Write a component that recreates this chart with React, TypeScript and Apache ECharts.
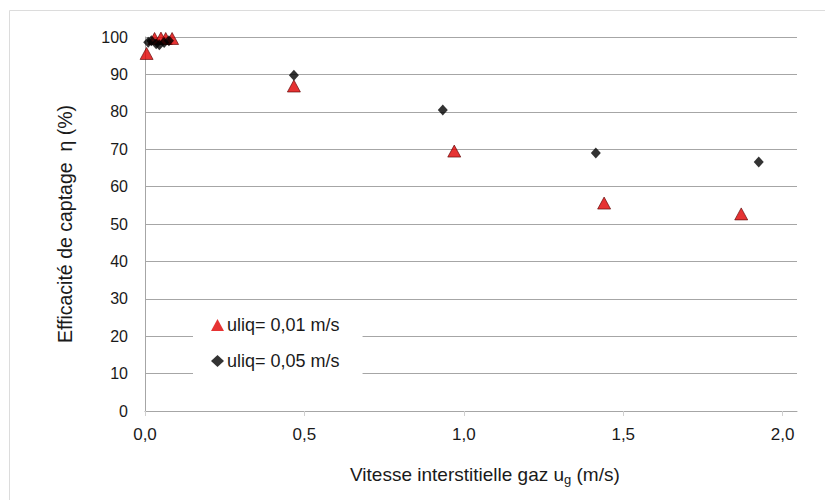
import React, { useEffect, useRef } from "react";
import * as echarts from "echarts";

const seriesNames = ["uliq= 0,01 m/s", "uliq= 0,05 m/s"];
const xTicks = [0, 0.5, 1.0, 1.5, 2.0];
const yTicks = [0, 10, 20, 30, 40, 50, 60, 70, 80, 90, 100];

// uliq = 0,01 m/s (red triangles)
const s1x = [0.005, 0.03, 0.05, 0.065, 0.085, 0.467, 0.97, 1.44, 1.87];
const s1y = [95.6, 99.6, 99.7, 99.6, 99.6, 86.9, 69.5, 55.6, 52.7];
// uliq = 0,05 m/s (black diamonds)
const s2x = [0.01, 0.02, 0.035, 0.045, 0.06, 0.075, 0.467, 0.934, 1.414, 1.925];
const s2y = [98.6, 99.0, 98.2, 97.9, 98.5, 99.0, 89.8, 80.5, 69.0, 66.6];

const FONT = "'Liberation Sans', Arial, sans-serif";

export default function App() {
  const ref = useRef<HTMLDivElement>(null);
  useEffect(() => {
    if (!ref.current) return;
    const chart = echarts.init(ref.current, undefined, { renderer: "svg" });
    const d1 = s1x.map((x, i) => [x, s1y[i]]);
    const d2 = s2x.map((x, i) => [x, s2y[i]]);
    chart.setOption({
      animation: false,
      backgroundColor: "#ffffff",
      textStyle: { fontFamily: FONT },
      grid: { left: 145, right: 28, top: 37, bottom: 89 },
      xAxis: {
        type: "value",
        min: 0,
        max: 2.045,
        interval: 0.5,
        axisLine: { show: true, onZero: false, lineStyle: { color: "#a6a6a6", width: 1 } },
        axisTick: { show: true, length: 5, customValues: xTicks, lineStyle: { color: "#d0d0d0" } },
        splitLine: { show: false },
        axisLabel: {
          customValues: xTicks,
          margin: 15,
          fontSize: 17,
          color: "#1a1a1a",
          fontFamily: FONT,
          formatter: (v: number) => v.toFixed(1).replace(".", ","),
        },
      },
      yAxis: {
        type: "value",
        min: 0,
        max: 100,
        interval: 10,
        name: "Efficacité de captage  η (%)",
        nameLocation: "middle",
        nameGap: 70,
        nameTextStyle: { fontSize: 19.5, color: "#1a1a1a", fontFamily: FONT },
        axisLine: { show: true, lineStyle: { color: "#a6a6a6", width: 1 } },
        axisTick: { show: false },
        splitLine: { show: true, lineStyle: { color: "#a6a6a6", width: 1 } },
        axisLabel: {
          customValues: yTicks,
          margin: 17,
          fontSize: 16,
          color: "#1a1a1a",
          fontFamily: FONT,
        },
      },
      legend: {
        show: true,
        orient: "vertical",
        left: 193,
        top: 306,
        backgroundColor: "#ffffff",
        padding: [10, 23, 12, 18],
        itemGap: 18,
        itemWidth: 13,
        itemHeight: 12,
        itemStyle: { borderWidth: 0 },
        textStyle: { fontSize: 18, color: "#1a1a1a", fontFamily: FONT, padding: [0, 0, 0, -2] },
        data: [
          { name: seriesNames[0], icon: "triangle" },
          { name: seriesNames[1], icon: "diamond" },
        ],
      },
      graphic: [
        {
          type: "line",
          shape: { x1: 9.5, y1: 10.5, x2: 825, y2: 10.5 },
          style: { stroke: "#dcdcdc", lineWidth: 1 },
          silent: true,
        },
        {
          type: "line",
          shape: { x1: 9.5, y1: 10.5, x2: 9.5, y2: 500 },
          style: { stroke: "#dcdcdc", lineWidth: 1 },
          silent: true,
        },
        {
          type: "text",
          left: 350,
          top: 465,
          style: {
            text: "Vitesse interstitielle gaz u{sub|g} (m/s)",
            fontSize: 19,
            fontFamily: FONT,
            fill: "#1a1a1a",
            rich: {
              sub: { fontSize: 13, fontFamily: FONT, fill: "#1a1a1a", padding: [9, 0, 0, 0] },
            },
          },
        },
      ],
      series: [
        {
          name: seriesNames[0],
          type: "scatter",
          symbol: "triangle",
          symbolSize: [13, 12],
          itemStyle: { color: "#e00000", borderColor: "#5a0000", borderWidth: 0.8 },
          data: d1,
          z: 2,
        },
        {
          name: seriesNames[1],
          type: "scatter",
          symbol: "diamond",
          symbolSize: [10, 11],
          itemStyle: { color: "#000000" },
          data: d2,
          z: 3,
        },
      ],
    });
    return () => chart.dispose();
  }, []);
  return (
    <div
      ref={ref}
      style={{ position: "fixed", left: 0, top: 0, width: 825, height: 500 }}
    />
  );
}
